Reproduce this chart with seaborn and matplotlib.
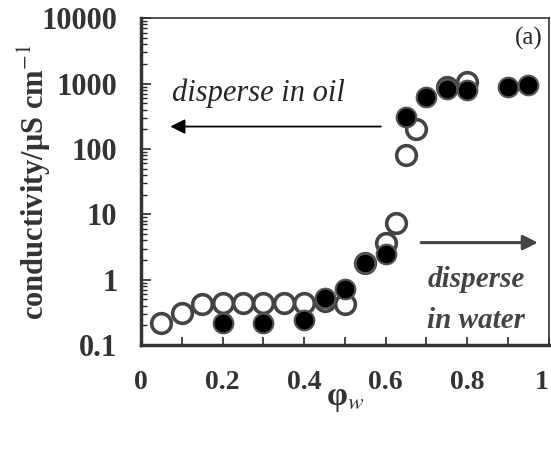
import matplotlib
matplotlib.use("Agg")
import matplotlib.pyplot as plt
import seaborn as sns
import pandas as pd
from matplotlib.ticker import LogLocator, FixedLocator, NullFormatter, FixedFormatter

# Data
open_x = [0.05, 0.10, 0.15, 0.20, 0.25, 0.30, 0.35, 0.40, 0.45, 0.50, 0.55, 0.60, 0.625, 0.65, 0.675, 0.75, 0.80]
open_y = [0.22, 0.31, 0.43, 0.44, 0.44, 0.44, 0.44, 0.44, 0.48, 0.43, 1.8, 3.7, 7.5, 82, 204, 900, 1070]
filled_x = [0.20, 0.30, 0.40, 0.45, 0.50, 0.55, 0.60, 0.65, 0.70, 0.75, 0.80, 0.90, 0.95]
filled_y = [0.22, 0.22, 0.24, 0.53, 0.73, 1.8, 2.5, 309, 630, 830, 800, 890, 950]
xticks = [0, 0.2, 0.4, 0.6, 0.8, 1.0]
xtick_labels = ["0", "0.2", "0.4", "0.6", "0.8", "1"]
yticks = [0.1, 1, 10, 100, 1000, 10000]
ytick_labels = ["0.1", "1", "10", "100", "1000", "10000"]

sns.set_style("ticks")
plt.rcParams['font.family'] = ['Liberation Serif', 'DejaVu Serif']
plt.rcParams['mathtext.fontset'] = 'stix'

fig = plt.figure(figsize=(5.51, 4.53), dpi=100)
ax = fig.add_axes([0.256, 0.238, 0.740, 0.722])

df_open = pd.DataFrame({"x": open_x, "y": open_y})
df_fill = pd.DataFrame({"x": filled_x, "y": filled_y})

sns.scatterplot(data=df_open, x="x", y="y", ax=ax, s=200, marker="o",
                facecolor="white", edgecolor="#444444", linewidth=2.6, zorder=3)
sns.scatterplot(data=df_fill, x="x", y="y", ax=ax, s=200, marker="o",
                facecolor="black", edgecolor="#555555", linewidth=1.5, zorder=4)

ax.set_yscale("log")
ax.set_xlim(0, 1.0)
ax.set_ylim(0.1, 10000)

ax.xaxis.set_major_locator(FixedLocator([0.1 * i for i in range(11)]))
ax.xaxis.set_major_formatter(NullFormatter())
for xv, lab in zip(xticks, xtick_labels):
    ax.text(xv if xv < 1 else 1.0, -0.115, lab, transform=ax.get_xaxis_transform(),
            ha="center" if xv < 1 else "right", va="center",
            fontsize=20, fontweight="bold", color="#333333")

ax.yaxis.set_major_locator(FixedLocator(yticks))
ax.yaxis.set_major_formatter(FixedFormatter(ytick_labels))
ax.yaxis.set_minor_locator(LogLocator(base=10, subs=range(2, 10)))
ax.yaxis.set_minor_formatter(NullFormatter())

ax.tick_params(axis="x", which="major", direction="in", length=6, width=1.2, top=False)
ax.tick_params(axis="y", which="major", direction="in", length=7, width=1.2, pad=17,
               labelsize=22, right=False)
ax.tick_params(axis="y", which="minor", direction="in", length=4, width=1.0, right=False)
for lab in ax.get_yticklabels():
    lab.set_fontweight("bold")
    lab.set_color("#333333")

for side in ["left", "bottom"]:
    ax.spines[side].set_linewidth(2.5)
    ax.spines[side].set_color("#333333")
for side in ["top", "right"]:
    ax.spines[side].set_linewidth(1.2)
    ax.spines[side].set_color("#333333")

ax.set_xlabel("\u03c6$_{w}$", fontsize=24, fontweight="bold", color="#333333", labelpad=24)
ax.set_ylabel("conductivity/\u03bcS cm$^{-1}$", fontsize=22, fontweight="bold",
              color="#333333")
ax.yaxis.set_label_coords(-0.215, 0.5)

ax.text(0.985, 4900, "(a)", ha="right", va="center", fontsize=18)
ax.text(0.076, 700, "disperse in oil", ha="left", va="center", fontsize=22, style="italic")
ax.annotate("", xy=(0.065, 220), xytext=(0.595, 220),
            arrowprops=dict(arrowstyle="-|>", color="black", lw=1.3, mutation_scale=22))
ax.annotate("", xy=(0.98, 3.7), xytext=(0.68, 3.7),
            arrowprops=dict(arrowstyle="-|>", color="#444444", lw=2.2, mutation_scale=22))
ax.text(0.822, 1.0, "disperse", ha="center", va="center", fontsize=21, style="italic",
        fontweight="bold", color="#444444")
ax.text(0.822, 0.24, "in water", ha="center", va="center", fontsize=21, style="italic",
        fontweight="bold", color="#444444")

fig.savefig("out.png", dpi=100)
